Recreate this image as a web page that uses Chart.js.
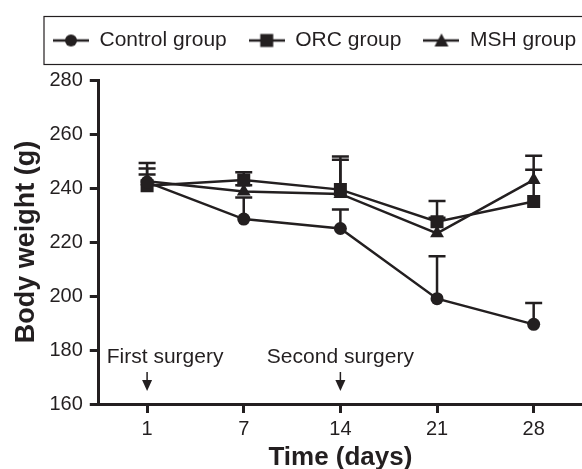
<!DOCTYPE html>
<html>

<head>
    <script src="https://cdn.jsdelivr.net/npm/chart.js"></script>
    <style>
        body { margin: 0; background: #fff; }
        #wrapper { width: 582px; height: 469px; }
    </style>
</head>

<body>
    <div id="wrapper">
        <canvas id="weight"></canvas>
    </div>
</body>

</html>

<script>
    var days = ['1', '7', '14', '21', '28'];

    var controlMean = [242.2, 228.5, 225.0, 199.0, 189.5];
    var controlUpper = [249.3, 236.5, 232.0, 214.7, 197.4];

    var orcMean = [240.8, 243.0, 239.4, 227.5, 235.0];
    var orcUpper = [245.0, 245.8, 251.7, 235.2, 246.8];

    var mshMean = [242.5, 238.7, 237.8, 223.2, 243.0];
    var mshUpper = [247.2, 241.0, 250.5, 229.0, 251.9];

    var surgeries = [
        { day: '1', text: 'First surgery', align: 'left' },
        { day: '14', text: 'Second surgery', align: 'center' }
    ];

    var ink = '#231f20';
    var font = "'Liberation Sans', Arial, sans-serif";

    // little line + marker picture used as legend symbol
    function legendIcon(style) {
        var c = document.createElement('canvas');
        c.width = 36;
        c.height = 18;
        var ctx = c.getContext('2d');
        ctx.fillStyle = ink;
        ctx.strokeStyle = ink;
        ctx.lineWidth = 2.5;
        ctx.beginPath();
        ctx.moveTo(0, 9);
        ctx.lineTo(36, 9);
        ctx.stroke();
        ctx.beginPath();
        if (style === 'circle') {
            ctx.arc(18, 9, 6, 0, Math.PI * 2);
        } else if (style === 'rect') {
            ctx.rect(11.5, 2.5, 13, 13);
        } else {
            ctx.moveTo(18, 2);
            ctx.lineTo(25, 15);
            ctx.lineTo(11, 15);
            ctx.closePath();
        }
        ctx.fill();
        return c;
    }

    var errorBars = {
        id: 'errorBars',
        beforeDatasetsDraw: function (chart) {
            var ctx = chart.ctx;
            var x = chart.scales.x, y = chart.scales.y;
            ctx.save();
            ctx.strokeStyle = ink;
            ctx.lineWidth = 2.5;
            chart.data.datasets.forEach(function (ds) {
                ds.upper.forEach(function (u, i) {
                    var px = x.getPixelForValue(i);
                    var py0 = y.getPixelForValue(ds.data[i]);
                    var py1 = y.getPixelForValue(u);
                    ctx.beginPath();
                    ctx.moveTo(px, py0);
                    ctx.lineTo(px, py1);
                    ctx.moveTo(px - 8.5, py1);
                    ctx.lineTo(px + 8.5, py1);
                    ctx.stroke();
                });
            });
            ctx.restore();
        }
    };

    var notes = {
        id: 'notes',
        afterLayout: function (chart) {
            // legend sits right of centre and close to the top in the original
            chart.legend.left += 25;
            chart.legend.right += 25;
            chart.legend.top -= 19;
            chart.legend.bottom -= 19;
        },
        afterDraw: function (chart) {
            var ctx = chart.ctx;
            var area = chart.chartArea;
            var x = chart.scales.x;
            var lg = chart.legend;
            ctx.save();
            ctx.strokeStyle = ink;
            ctx.lineWidth = 1.2;
            ctx.strokeRect(lg.left + 13, lg.top + 8.5, 600, 48);

            ctx.fillStyle = ink;
            ctx.font = '21px ' + font;
            ctx.textBaseline = 'middle';
            surgeries.forEach(function (s) {
                var px = x.getPixelForValue(days.indexOf(s.day));
                ctx.textAlign = s.align;
                var tx = s.align === 'left' ? area.left + 8 : px;
                ctx.fillText(s.text, tx, area.bottom - 47);
                ctx.lineWidth = 1.5;
                ctx.beginPath();
                ctx.moveTo(px, area.bottom - 32);
                ctx.lineTo(px, area.bottom - 22);
                ctx.stroke();
                ctx.beginPath();
                ctx.moveTo(px - 5, area.bottom - 24);
                ctx.lineTo(px + 5, area.bottom - 24);
                ctx.lineTo(px, area.bottom - 13);
                ctx.closePath();
                ctx.fill();
            });
            ctx.restore();
        }
    };

    function series(label, data, upper, style, radius) {
        return {
            label: label,
            data: data,
            upper: upper,
            borderColor: ink,
            backgroundColor: ink,
            borderWidth: 2.5,
            pointStyle: style,
            pointRadius: radius,
            pointHoverRadius: radius,
            pointBorderWidth: 0,
            tension: 0,
            fill: false
        };
    }

    var icons = { circle: legendIcon('circle'), rect: legendIcon('rect'), triangle: legendIcon('triangle') };

    var chart = new Chart('weight', {
        type: 'line',
        data: {
            labels: days,
            datasets: [
                series('Control group', controlMean, controlUpper, 'circle', 6.5),
                series('ORC group', orcMean, orcUpper, 'rect', 9.2),
                series('MSH group', mshMean, mshUpper, 'triangle', 8)
            ]
        },
        plugins: [errorBars, notes],
        options: {
            responsive: true,
            maintainAspectRatio: false,
            animation: false,
            layout: {
                autoPadding: false,
                padding: { left: 6, top: 27, right: 0, bottom: -2 }
            },
            plugins: {
                legend: {
                    display: true,
                    align: 'start',
                    labels: {
                        usePointStyle: true,
                        pointStyleWidth: 36,
                        padding: 22,
                        color: ink,
                        font: { family: font, size: 21 },
                        generateLabels: function (chart) {
                            var items = Chart.defaults.plugins.legend.labels.generateLabels(chart);
                            items.forEach(function (it, i) {
                                it.pointStyle = icons[chart.data.datasets[i].pointStyle];
                            });
                            return items;
                        }
                    }
                },
                tooltip: { enabled: false }
            },
            scales: {
                x: {
                    type: 'category',
                    offset: true,
                    grid: { drawOnChartArea: false, drawTicks: true, tickLength: 9, lineWidth: 3, color: ink },
                    border: { display: true, width: 3, color: ink },
                    ticks: { color: ink, padding: 4, font: { family: font, size: 20 } },
                    title: {
                        display: true,
                        text: 'Time (days)',
                        color: ink,
                        padding: { top: 0, bottom: 0 },
                        font: { family: font, size: 26, weight: 'bold', lineHeight: 1.0 }
                    }
                },
                y: {
                    min: 160,
                    max: 280,
                    grid: { drawOnChartArea: false, drawTicks: true, tickLength: 9, lineWidth: 3, color: ink },
                    border: { display: true, width: 3, color: ink },
                    ticks: {
                        stepSize: 20,
                        color: ink,
                        padding: 7,
                        font: { family: font, size: 20 }
                    },
                    title: {
                        display: true,
                        text: 'Body weight (g)',
                        color: ink,
                        padding: { top: 4, bottom: 0 },
                        font: { family: font, size: 27, weight: 'bold' }
                    }
                }
            }
        }
    });
</script>
